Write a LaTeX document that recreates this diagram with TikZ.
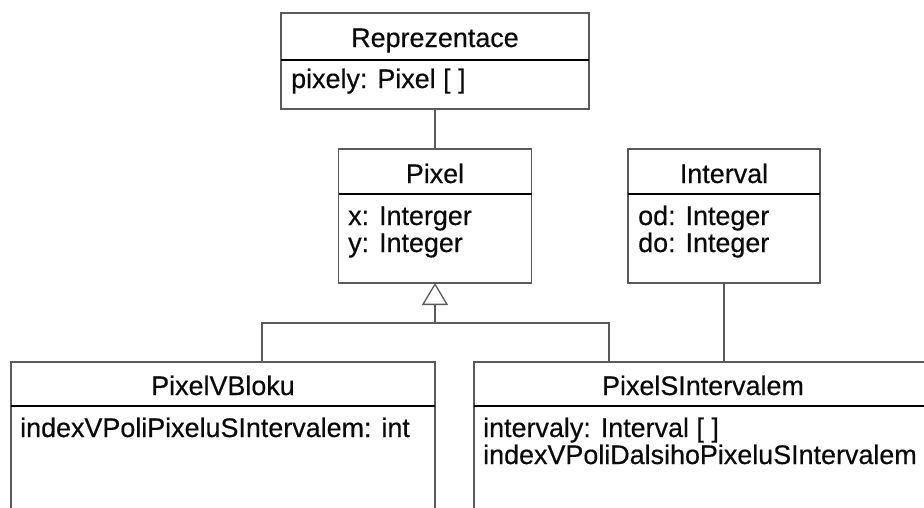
\documentclass[tikz,border=0pt]{standalone}
\usepackage{fontspec}
\setmainfont{Liberation Sans}[FakeBold=0.4]
\usetikzlibrary{arrows.meta}
\definecolor{linegray}{HTML}{5A5A5A}
\definecolor{inkcol}{HTML}{0A0A0A}
\begin{document}
\begin{tikzpicture}[x=1pt,y=-1pt,
  cls/.style={draw=linegray, line width=1.3pt, rectangle, inner sep=0pt, outer sep=0pt, fill=white},
  sep/.style={draw=black, line width=1.3pt},
  conn/.style={draw=linegray, line width=1.3pt},
  title/.style={font=\fontsize{26.9}{26}\selectfont, text=inkcol, inner sep=0pt, anchor=base},
  attr/.style={font=\fontsize{26.9}{26}\selectfont, text=inkcol, inner sep=0pt, anchor=base west},
  gen/.style={conn, -{Triangle[open, length=22pt, width=26pt, line width=1.3pt]}}
]
\useasboundingbox (0,0) rectangle (924,507);
\fill[white] (0,0) rectangle (924,507);

% class boxes
\node[cls, minimum width=308pt, minimum height=96pt]  (rep) at (435,61) {};
\node[cls, minimum width=193pt, minimum height=134pt] (pix) at (435,216) {};
\node[cls, minimum width=192pt, minimum height=134pt] (int) at (724,216) {};
\node[cls, minimum width=424pt, minimum height=160pt] (pvb) at (223,442) {};
\node[cls, minimum width=458pt, minimum height=160pt] (psi) at (703,442) {};

% compartment dividers
\draw[sep] (rep.west |- 0,60) -- (rep.east |- 0,60);
\draw[sep] (pix.west |- 0,194) -- (pix.east |- 0,194);
\draw[sep] (int.west |- 0,194) -- (int.east |- 0,194);
\draw[sep] (pvb.west |- 0,406) -- (pvb.east |- 0,406);
\draw[sep] (psi.west |- 0,406) -- (psi.east |- 0,406);

% names and attributes
\node[title] (repT) at (435,47) {Reprezentace};
\node[attr]  (repA) at (291,88) {pixely: Pixel [ ]};

\node[title] (pixT) at (435,183) {Pixel};
\node[attr]  (pixA) at (348,225) {x: Interger};
\node[attr]  (pixB) at (348,252) {y: Integer};

\node[title] (intT) at (724,183) {Interval};
\node[attr]  (intA) at (638,225) {od: Integer};
\node[attr]  (intB) at (638,252) {do: Integer};

\node[title] (pvbT) at (223,395) {PixelVBloku};
\node[attr]  (pvbA) at (20,437) {indexVPoliPixeluSIntervalem: int};

\node[title] (psiT) at (703,395) {PixelSIntervalem};
\node[attr]  (psiA) at (483,437) {intervaly: Interval [ ]};
\node[attr]  (psiB) at (483,464) {indexVPoliDalsihoPixeluSIntervalem};

% associations
\draw[conn] (rep.south) -- (pix.north);
\draw[conn] (int.south) -- (int.south |- psi.north);

% generalization
\coordinate (fork) at (435,323);
\draw[conn] (262,0 |- pvb.north) |- (fork) -| (609,0 |- psi.north);
\draw[gen] (fork) -- (pix.south);
\end{tikzpicture}
\end{document}
